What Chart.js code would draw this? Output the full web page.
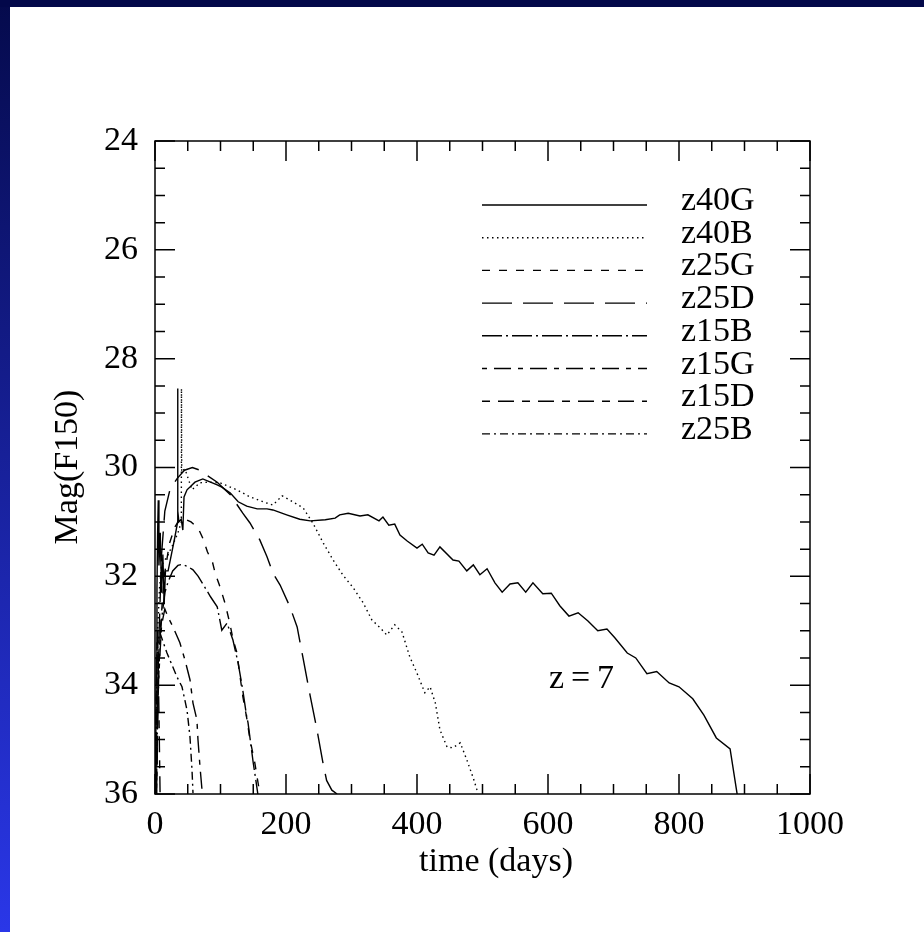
<!DOCTYPE html>
<html>
<head>
<meta charset="utf-8">
<style>
  html, body { margin: 0; padding: 0; background: #fff; }
  canvas { display: block; }
</style>
</head>
<body>
<canvas id="lightCurveChart" width="924" height="932"></canvas>
<script src="https://cdn.jsdelivr.net/npm/chart.js@4.4.1/dist/chart.umd.min.js"></script>
<script>
// F150 light curves at z=7, magnitude vs time since explosion
const seriesNames = ['z40G', 'z40B', 'z25G', 'z25D', 'z15B', 'z15G', 'z15D', 'z25B'];
const xTickValues = [0, 200, 400, 600, 800, 1000];
const yTickValues = [24, 26, 28, 30, 32, 34, 36];

const z40G_days = [0, 1, 2, 3, 4, 5, 6, 8, 10, 12, 14, 16, 20, 25, 30, 34.6, 34.7, 34.8, 36.5, 40, 42.5, 44.3, 48.9, 53.4, 61, 73, 81, 95, 102, 115, 127, 140, 156, 171, 180, 201, 221, 237, 260, 275, 282, 295, 313, 325, 342, 348, 357, 366, 374, 385, 400, 408, 417, 426, 435, 455, 464, 476, 486, 496, 507, 519, 530, 542, 554, 566, 577, 592, 605, 618, 632, 646, 661, 676, 690, 702, 721, 734, 751, 766, 785, 800, 821, 838, 857, 878, 889];
const z40G_mag = [37, 35.5, 33.5, 32.2, 31.2, 30.6, 31.8, 31.2, 32.3, 31.6, 32.5, 31.9, 31.9, 31.6, 31.3, 31.0, 28.55, 30.8, 31.0, 30.95, 31.15, 30.54, 30.41, 30.36, 30.27, 30.21, 30.25, 30.32, 30.36, 30.47, 30.63, 30.71, 30.76, 30.76, 30.78, 30.87, 30.95, 30.98, 30.96, 30.93, 30.87, 30.84, 30.89, 30.87, 30.98, 30.91, 31.06, 31.04, 31.24, 31.35, 31.48, 31.41, 31.57, 31.61, 31.46, 31.70, 31.72, 31.90, 31.79, 31.97, 31.86, 32.12, 32.29, 32.14, 32.12, 32.29, 32.12, 32.32, 32.31, 32.54, 32.73, 32.67, 32.82, 33.00, 32.97, 33.13, 33.41, 33.50, 33.79, 33.75, 33.96, 34.03, 34.25, 34.55, 34.97, 35.17, 36.02];

const z40B_days = [0.5, 2, 4, 7, 10, 15, 20, 28, 35, 40.2, 40.4, 40.8, 42.7, 45.8, 56.5, 68.7, 81, 99, 125, 145, 165, 180, 194, 206, 226, 241, 257, 272, 287, 302, 318, 331, 344, 354, 366, 377, 389, 400, 412, 420, 428, 435, 446, 455, 466, 476, 486, 493];
const z40B_mag = [37, 34.5, 33.0, 32.2, 31.8, 31.7, 31.6, 31.4, 31.2, 31.0, 28.55, 30.08, 30.05, 30.03, 30.41, 30.28, 30.27, 30.28, 30.41, 30.54, 30.63, 30.69, 30.52, 30.60, 30.74, 31.02, 31.39, 31.70, 31.98, 32.20, 32.49, 32.80, 32.95, 33.08, 32.89, 33.02, 33.48, 33.78, 34.14, 34.03, 34.33, 34.82, 35.14, 35.15, 35.06, 35.37, 35.71, 35.98];

const z25G_days = [1, 4, 8, 14, 22, 30, 38, 43, 55, 66, 73, 80, 88, 92, 98, 102, 107, 114, 119, 125, 130, 134, 140, 145, 152, 156, 160];
const z25G_mag = [37, 34.5, 33.0, 32.0, 31.4, 31.1, 30.95, 30.93, 31.0, 31.12, 31.3, 31.55, 31.75, 31.95, 32.15, 32.3, 32.5, 32.85, 33.15, 33.4, 33.85, 34.2, 34.6, 35.0, 35.4, 35.7, 35.98];

const z25D_days = [1, 5, 10, 15, 23, 34, 45, 57, 69, 80, 95, 115, 134, 145, 160, 171, 180, 191, 206, 217, 226, 237, 247, 256, 262, 270, 278];
const z25D_mag = [37, 33.5, 31.6, 30.8, 30.4, 30.2, 30.05, 30.0, 30.05, 30.15, 30.27, 30.5, 30.84, 31.02, 31.33, 31.64, 31.94, 32.16, 32.56, 32.93, 33.5, 34.2, 34.8, 35.4, 35.75, 35.93, 36.0];

const z15B_days = [1, 5, 10, 15, 20, 27, 35, 41, 50, 58, 66, 76, 85, 95, 102, 110, 119, 127, 134, 140, 142, 150, 154, 157];
const z15B_mag = [37, 33.5, 32.8, 32.3, 32.1, 31.9, 31.8, 31.78, 31.82, 31.88, 32.0, 32.2, 32.38, 32.56, 32.99, 32.86, 33.17, 33.6, 34.09, 34.58, 34.69, 35.43, 35.75, 36.0];

const z15G_days = [1, 5, 10, 15, 20, 27.5, 38, 45.8, 53.4, 58, 64, 65.6, 68.7, 71.8];
const z15G_mag = [37, 34.0, 32.9, 32.6, 32.75, 32.93, 33.22, 33.54, 33.9, 34.33, 34.64, 35.0, 35.5, 35.93];

const z15D_days = [0.5, 2, 4, 6, 8];
const z15D_mag = [36.5, 34, 33, 34.5, 36.2];

const z25B_days = [0.5, 3, 7.6, 18.3, 33.6, 41.2, 48.9, 53.4, 56.5, 58];
const z25B_mag = [37, 33.2, 33.04, 33.41, 33.85, 34.03, 34.46, 34.95, 35.56, 35.98];

const allDays = [z40G_days, z40B_days, z25G_days, z25D_days, z15B_days, z15G_days, z15D_days, z25B_days];
const allMags = [z40G_mag, z40B_mag, z25G_mag, z25D_mag, z15B_mag, z15G_mag, z15D_mag, z25B_mag];
const dashPatterns = [[], [1.5, 3.5], [8, 9], [30, 11], [20, 4, 2, 4], [5, 7, 17, 7], [8, 8, 16, 8], [8, 4, 2, 4]];

const serif = "'Liberation Serif', 'Times New Roman', serif";
const fontPx = 34;

const datasets = seriesNames.map((name, i) => ({
    label: name,
    data: allDays[i].map((d, k) => ({ x: d, y: allMags[i][k] })),
    borderColor: '#000',
    borderWidth: 1.4,
    borderDash: dashPatterns[i],
    pointRadius: 0,
    showLine: true,
    tension: 0,
    fill: false
}));

// dark blue slide frame behind the white page
const slideBackground = {
    id: 'slideBackground',
    beforeDraw(chart) {
        const ctx = chart.ctx;
        const w = chart.width, h = chart.height;
        ctx.save();
        const grad = ctx.createLinearGradient(0, 0, 0, h);
        grad.addColorStop(0, '#050a4c');
        grad.addColorStop(1, '#2a37e8');
        ctx.fillStyle = grad;
        ctx.fillRect(0, 0, w, h);
        ctx.fillStyle = '#03084a';
        ctx.fillRect(0, 0, w, 7);
        ctx.fillStyle = '#ffffff';
        ctx.fillRect(10, 7, w - 10, h - 7);
        ctx.restore();
    }
};

// box with inward ticks on all four sides, titles, legend, redshift label
const frameAndLabels = {
    id: 'frameAndLabels',
    afterDraw(chart) {
        const { ctx, chartArea: a, scales: { x, y } } = chart;
        ctx.save();
        ctx.strokeStyle = '#000';
        ctx.lineWidth = 1.5;
        ctx.setLineDash([]);
        ctx.strokeRect(a.left, a.top, a.right - a.left, a.bottom - a.top);
        ctx.beginPath();
        for (let v = 0; v <= 1000; v += 50) {
            const px = x.getPixelForValue(v);
            const len = v % 200 === 0 ? 20 : 10;
            ctx.moveTo(px, a.bottom); ctx.lineTo(px, a.bottom - len);
            ctx.moveTo(px, a.top); ctx.lineTo(px, a.top + len);
        }
        for (let v = 24; v <= 36; v += 0.5) {
            const py = y.getPixelForValue(v);
            const len = v % 2 === 0 ? 20 : 10;
            ctx.moveTo(a.left, py); ctx.lineTo(a.left + len, py);
            ctx.moveTo(a.right, py); ctx.lineTo(a.right - len, py);
        }
        ctx.stroke();

        ctx.fillStyle = '#000';
        ctx.font = fontPx + 'px ' + serif;
        ctx.textAlign = 'center';
        ctx.textBaseline = 'middle';
        ctx.fillText('time (days)', 496, 862);
        ctx.save();
        ctx.translate(68, 467);
        ctx.rotate(-Math.PI / 2);
        ctx.fillText('Mag(F150)', 0, 0);
        ctx.restore();

        ctx.textAlign = 'left';
        ctx.textBaseline = 'alphabetic';
        ctx.fillText('z\u2009=\u20097', 549, 688);

        chart.data.datasets.forEach((ds, i) => {
            const ly = 205 + i * 32.7;
            ctx.lineWidth = 1.4;
            ctx.setLineDash(ds.borderDash);
            ctx.beginPath();
            ctx.moveTo(482, ly);
            ctx.lineTo(647, ly);
            ctx.stroke();
            ctx.fillText(ds.label, 681, ly + 5);
        });
        ctx.restore();
    }
};

const tickFont = { family: serif, size: fontPx };

const chartConfig = {
    type: 'scatter',
    data: { datasets },
    options: {
        responsive: false,
        animation: false,
        layout: { padding: { left: 10, top: 141, right: 114, bottom: 0 } },
        plugins: {
            legend: { display: false },
            tooltip: { enabled: false }
        },
        scales: {
            x: {
                type: 'linear',
                min: 0,
                max: 1000,
                afterFit: (s) => { s.height = 138; },
                afterBuildTicks: (s) => { s.ticks = xTickValues.map(v => ({ value: v })); },
                ticks: { color: '#000', font: tickFont, padding: 11, maxRotation: 0, autoSkip: false, callback: (v) => String(v) },
                grid: { display: false, drawTicks: false },
                border: { display: false }
            },
            y: {
                type: 'linear',
                min: 24,
                max: 36,
                reverse: true,
                afterFit: (s) => { s.width = 145; },
                afterBuildTicks: (s) => { s.ticks = yTickValues.map(v => ({ value: v })); },
                ticks: { color: '#000', font: tickFont, padding: 17, autoSkip: false, callback: (v) => String(v) },
                grid: { display: false, drawTicks: false },
                border: { display: false }
            }
        }
    },
    plugins: [slideBackground, frameAndLabels]
};

const ctx = document.getElementById('lightCurveChart');
const lightCurveChart = new Chart(ctx, chartConfig);
</script>
</body>
</html>
